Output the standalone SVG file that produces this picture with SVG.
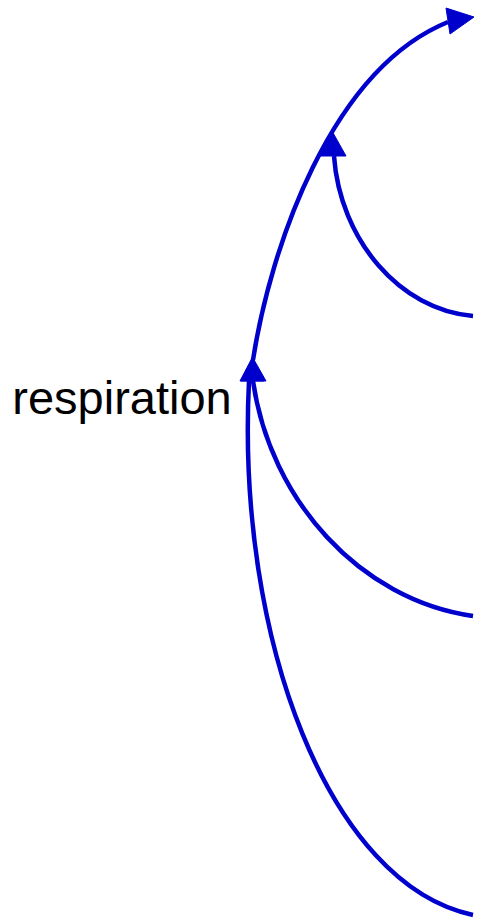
<svg xmlns="http://www.w3.org/2000/svg" width="477" height="918" viewBox="0 0 477 918">
  <style>
    .edge { fill: none; stroke: #0000cd; stroke-width: 4.5; }
    .head { fill: #0000cd; stroke: #0000cd; stroke-width: 1; }
    .label { font-family: "Liberation Sans", Arial, sans-serif; font-size: 47px; fill: #000000; }
  </style>
  <rect width="477" height="918" fill="#ffffff"/>

  <g id="respiration">
    <text class="label" x="122" y="414" text-anchor="middle">respiration</text>
  </g>

  <g id="connectors">
    <!-- respiration to the upper right -->
    <path class="edge" d="M253,360 C270,250 330,70 448,22"/>
    <polygon class="head" points="446,8 474,17 450,34"/>

    <!-- from the right at y=316 onto the rising curve -->
    <path class="edge" d="M473,316 C400,310 340,240 334,156"/>
    <polygon class="head" points="320,156 332,131 346,156"/>

    <!-- from the right at y=616 into respiration -->
    <path class="edge" d="M473,616 C360,600 270,500 253,381"/>
    <polygon class="head" points="241,381 253,358 266,381"/>

    <!-- from the right at y=915 into respiration -->
    <path class="edge" d="M473,915 C330,885 236,640 249,381"/>
    <polygon class="head" points="240,381 252,358 264,381"/>
  </g>
</svg>
